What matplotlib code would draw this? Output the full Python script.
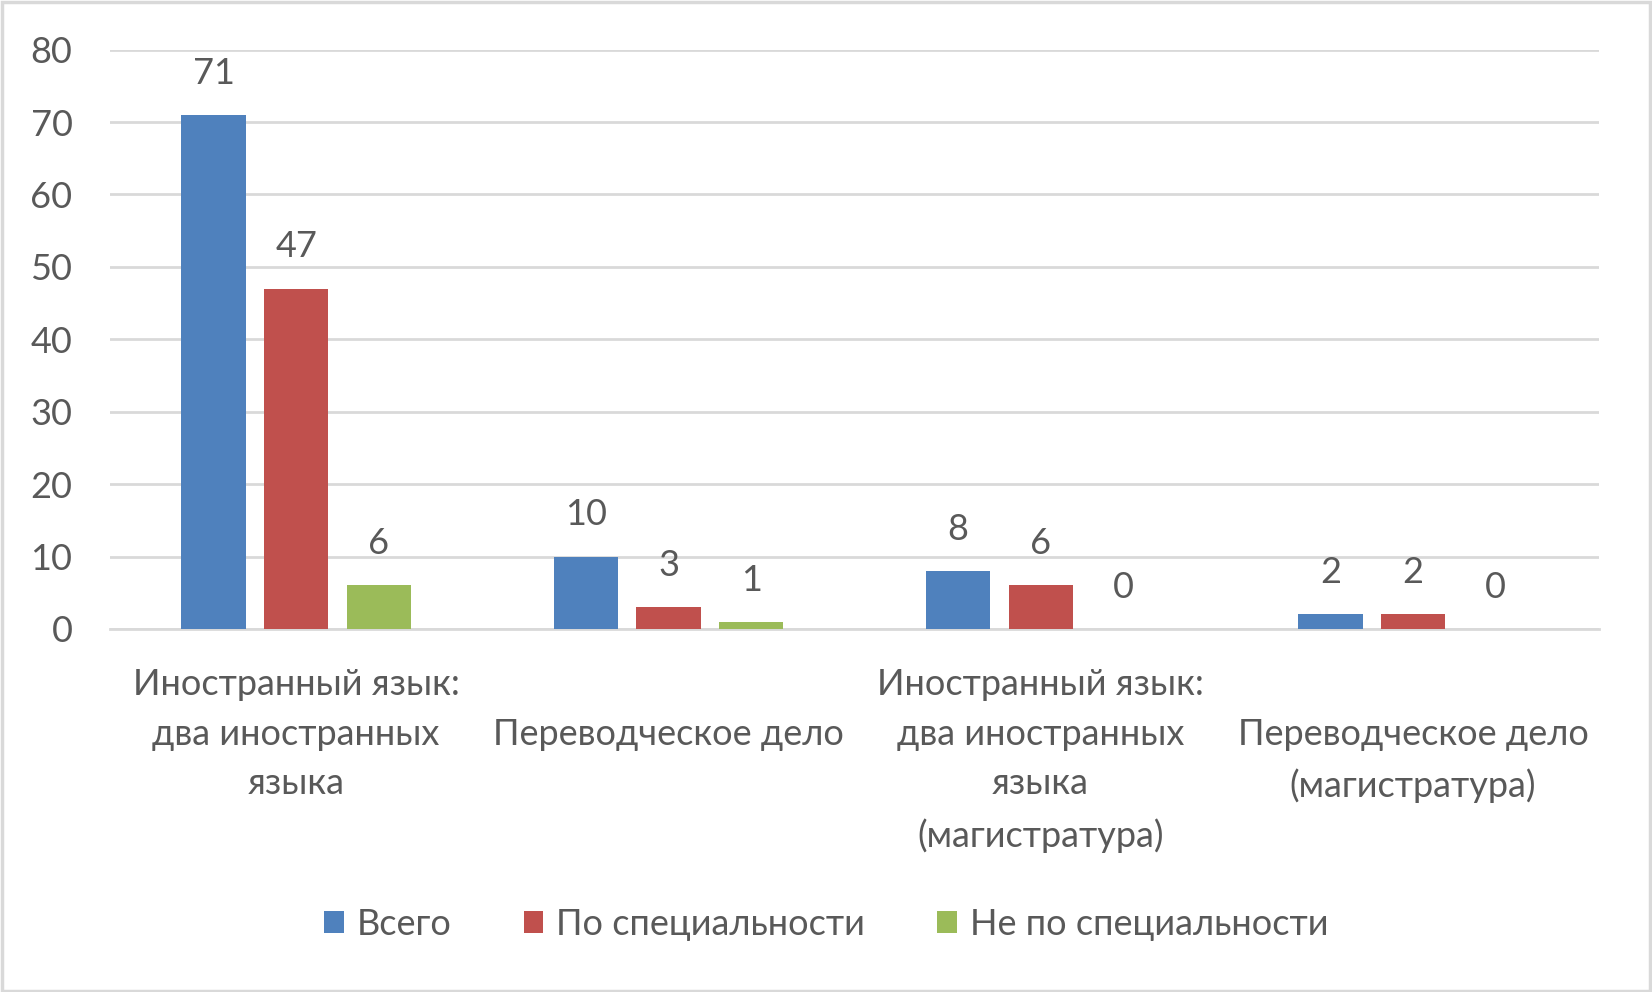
import matplotlib
matplotlib.use("Agg")
import matplotlib.pyplot as plt
from matplotlib.patches import Rectangle
import numpy as np

categories = ["Иностранный язык:\nдва иностранных\nязыка",
              "\nПереводческое дело",
              "Иностранный язык:\nдва иностранных\nязыка\n(магистратура)",
              "\nПереводческое дело\n(магистратура)"]
series_names = ["Всего", "По специальности", "Не по специальности"]
vsego = [71, 10, 8, 2]
po_spec = [47, 3, 6, 2]
ne_po_spec = [6, 1, 0, 0]
yticks = [0, 10, 20, 30, 40, 50, 60, 70, 80]

colors = ["#4f81bd", "#c0504d", "#9bbb59"]
txt = "#595959"
grid = "#d9d9d9"
plt.rcParams['font.family'] = ['Lato', 'DejaVu Sans']

fig = plt.figure(figsize=(16.52, 9.92), dpi=100)
ax = fig.add_axes([0.0666, 0.366, 0.9014, 0.584])

x = np.arange(len(categories))
w = 0.173
off = 0.222
for i, (vals, c, name) in enumerate(zip([vsego, po_spec, ne_po_spec], colors, series_names)):
    bars = ax.bar(x + (i - 1) * off, vals, width=w, color=c, label=name, zorder=3)
    for b, v in zip(bars, vals):
        ax.annotate(str(v), (b.get_x() + b.get_width() / 2, v), xytext=(0, 30),
                    textcoords="offset points", ha="center", va="center",
                    fontsize=26, color=txt)

ax.set_xlim(-0.5, 3.5)
ax.set_ylim(0, 80)
ax.set_yticks(yticks)
ax.yaxis.grid(True, color=grid, linewidth=2, zorder=0)
ax.set_axisbelow(True)
for s in ["top", "right", "left"]:
    ax.spines[s].set_visible(False)
ax.spines["bottom"].set_color(grid)
ax.spines["bottom"].set_linewidth(2)
ax.tick_params(axis="y", length=0, pad=27, labelsize=26, labelcolor=txt)
ax.set_xticks(x)
ax.set_xticklabels(categories, fontsize=26, color=txt, linespacing=1.62, va="top")
ax.tick_params(axis="x", length=0, pad=28)

leg = fig.legend(loc="center", bbox_to_anchor=(0.5, 0.068), ncol=3, frameon=False,
                 fontsize=26, handlelength=0.55, handleheight=0.55, handletextpad=0.35,
                 columnspacing=2.0, labelcolor=txt)

fig.patches.append(Rectangle((0.001, 0.001), 0.998, 0.997, transform=fig.transFigure,
                             fill=False, edgecolor=grid, linewidth=2.5))
fig.savefig("out.png", dpi=100)
